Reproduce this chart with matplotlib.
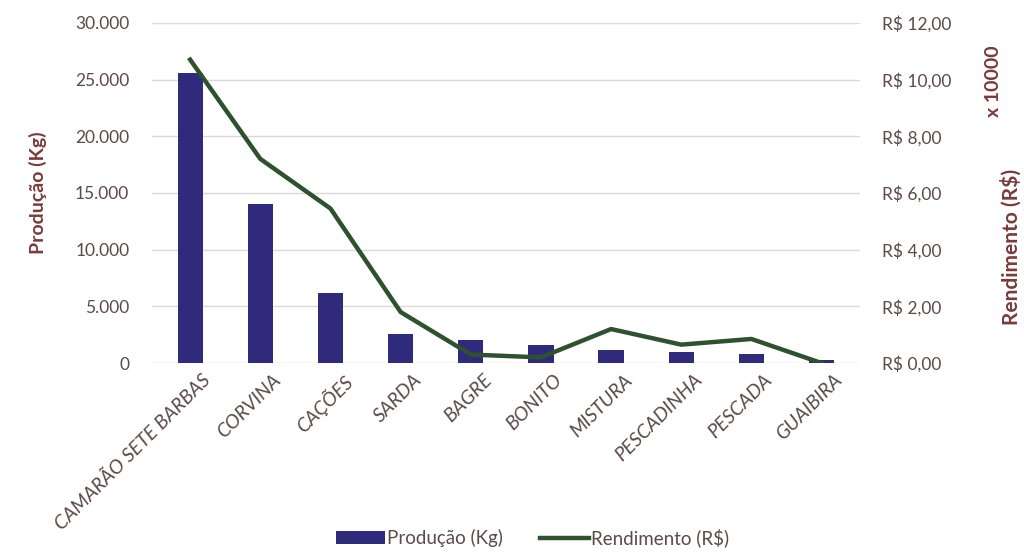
import matplotlib
matplotlib.use("Agg")
import matplotlib.pyplot as plt
from matplotlib.ticker import FuncFormatter
from matplotlib.transforms import ScaledTranslation

plt.rcParams['font.family'] = ['Lato', 'DejaVu Sans']

especies = ["CAMARÃO SETE BARBAS", "CORVINA", "CAÇÕES", "SARDA", "BAGRE",
            "BONITO", "MISTURA", "PESCADINHA", "PESCADA", "GUAIBIRA"]
producao = [25600, 14000, 6200, 2600, 2000, 1600, 1150, 1000, 800, 300]
rendimento = [10.7, 7.2, 5.45, 1.8, 0.3, 0.2, 1.2, 0.65, 0.85, 0.0]

bar_color = "#2f2a7c"
line_color = "#2e5230"
tick_color = "#5a4a4a"
title_color = "#7a3a3a"

fig = plt.figure(figsize=(10.24, 5.56), dpi=100)
ax = fig.add_axes([0.148, 0.347, 0.692, 0.612])
ax2 = ax.twinx()

x = range(len(especies))
ax.bar(x, producao, width=0.36, color=bar_color, label="Produção (Kg)", zorder=2)
ax2.plot(x, rendimento, color=line_color, lw=3.2, label="Rendimento (R$)", zorder=3)

ax.set_xlim(-0.55, len(especies) - 0.45)
ax.set_ylim(0, 30000)
ax2.set_ylim(0, 12)
ax.set_yticks(range(0, 30001, 5000))
ax2.set_yticks(range(0, 13, 2))

ax.yaxis.set_major_formatter(FuncFormatter(lambda v, p: f"{int(v):,}".replace(",", ".")))
ax2.yaxis.set_major_formatter(FuncFormatter(lambda v, p: f"R$ {v:.2f}".replace(".", ",")))

ax.grid(axis="y", color="#d9d9d9", lw=1, zorder=0)
ax.set_axisbelow(True)
for a in (ax, ax2):
    for s in a.spines.values():
        s.set_visible(False)
    a.tick_params(length=0, colors=tick_color, labelsize=12.5)
ax.tick_params(axis="y", pad=16)
ax2.tick_params(axis="y", pad=16)

ax.set_xticks(list(x))
ax.set_xticklabels(especies, rotation=45, ha="right", rotation_mode="anchor",
                   fontstyle="italic", fontsize=14, color=tick_color)
ax.tick_params(axis="x", pad=6)
shift = ScaledTranslation(0.12, 0, fig.dpi_scale_trans)
for lbl in ax.get_xticklabels():
    lbl.set_transform(lbl.get_transform() + shift)

ax.set_ylabel("Produção (Kg)", color=title_color, fontsize=14, fontweight="bold", labelpad=20)
fig.text(0.987, 0.415, "Rendimento (R$)", rotation=90, color=title_color,
         fontsize=15, fontweight="bold", ha="center", va="bottom")
fig.text(0.970, 0.79, "x 10000", rotation=90, color=title_color,
         fontsize=14, fontweight="bold", ha="center", va="bottom")

h1, l1 = ax.get_legend_handles_labels()
h2, l2 = ax2.get_legend_handles_labels()
fig.legend(h1 + h2, l1 + l2, loc="center", bbox_to_anchor=(0.52, 0.033), ncol=2,
           frameon=False, fontsize=13.5, labelcolor=tick_color, handlelength=2.6,
           handletextpad=0.1, columnspacing=2.0)

fig.savefig("out.png", dpi=100)
